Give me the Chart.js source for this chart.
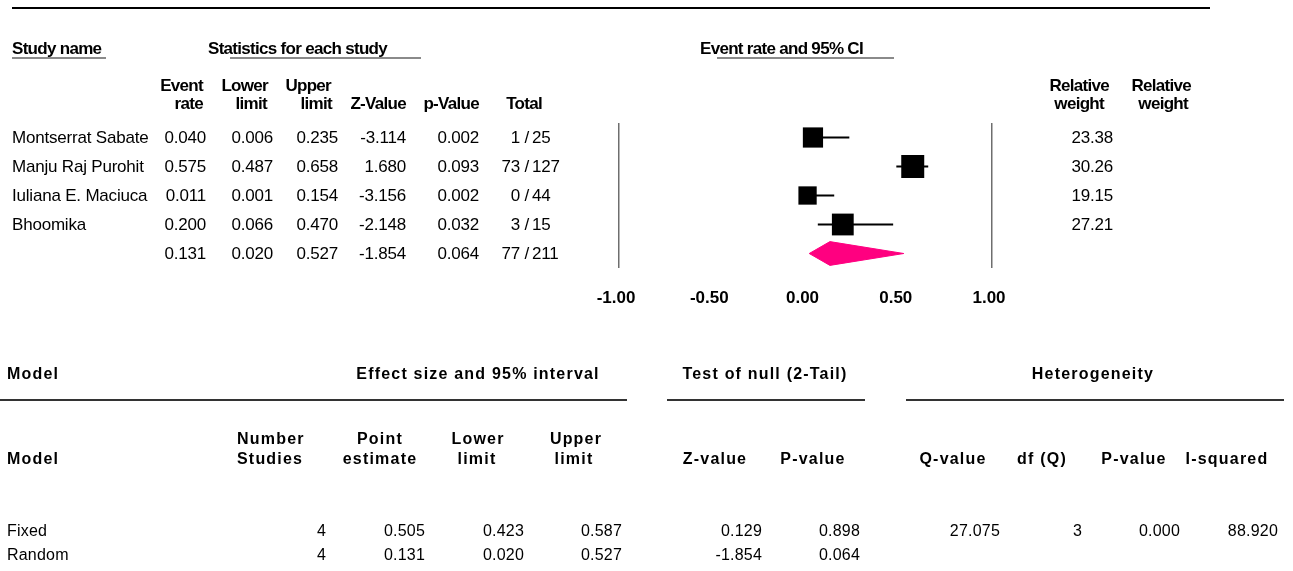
<!DOCTYPE html>
<html>
<head>
<meta charset="utf-8">
<script src="https://cdn.jsdelivr.net/npm/chart.js@4.4.1/dist/chart.umd.min.js"></script>
<style>
html,body{margin:0;padding:0;background:#fff;}
#page{position:relative;width:1293px;height:571px;overflow:hidden;}
#plot{position:absolute;left:0;top:0;}
.t{position:absolute;white-space:nowrap;line-height:20px;height:20px;color:#000;}
.a{font:17px "Liberation Sans",Arial,sans-serif;letter-spacing:-0.2px;}
.ab{font:bold 17px "Liberation Sans",Arial,sans-serif;letter-spacing:-0.7px;}
.m{font:16px "Liberation Sans",Arial,sans-serif;letter-spacing:0.2px;}
.mb{font:bold 16px "Liberation Sans",Arial,sans-serif;letter-spacing:1.2px;}
.rule{position:absolute;}
</style>
</head>
<body>
<div id="page"><canvas id="plot" width="1293" height="571"></canvas></div>
<script>
// per study
const studies = ['Montserrat Sabate', 'Manju Raj Purohit', 'Iuliana E. Maciuca', 'Bhoomika'];
const eventRate = [0.040, 0.575, 0.011, 0.200];
const lowerLimit = [0.006, 0.487, 0.001, 0.066];
const upperLimit = [0.235, 0.658, 0.154, 0.470];
const zValue = [-3.114, 1.680, -3.156, -2.148];
const pValue = [0.002, 0.093, 0.002, 0.032];
const events = [1, 73, 0, 3];
const totals = [25, 127, 44, 15];
const relWeight = [23.38, 30.26, 19.15, 27.21];

// pooled (random) row: rate, lower, upper
const pooled = [0.131, 0.020, 0.527];
const pooledZ = -1.854, pooledP = 0.064;
const pooledEvents = 77, pooledTotal = 211;

const xTicks = [-1, -0.5, 0, 0.5, 1];

// model table
const models = ['Fixed', 'Random'];
const nStudies = [4, 4];
const pointEst = [0.505, 0.131];
const modelLower = [0.423, 0.020];
const modelUpper = [0.587, 0.527];
const modelZ = [0.129, -1.854];
const modelP = [0.898, 0.064];
const heterogeneity = [27.075, 3, 0.000, 88.920]; // Q, df, P, I2

const W = 1293;
const page = document.getElementById('page');

function put(txt, x, y, align, cls){
    const d = document.createElement('div');
    d.className = 't ' + cls;
    d.textContent = txt;
    d.style.top = (y - 10) + 'px';
    if(align === 'r') d.style.right = (W - x) + 'px';
    else if(align === 'c'){ d.style.left = x + 'px'; d.style.transform = 'translateX(-50%)'; }
    else d.style.left = x + 'px';
    page.appendChild(d);
}
function rule(x1, x2, y, color, h){
    const d = document.createElement('div');
    d.className = 'rule';
    d.style.cssText += `left:${x1}px;width:${x2 - x1}px;top:${y}px;height:${h}px;background:${color};`;
    page.appendChild(d);
}
const f3 = v => v.toFixed(3);

// ---- top table
rule(12, 1210, 7, '#000', 2);
put('Study name', 12, 49, 'l', 'ab');
rule(12, 106, 57, '#8a8a8a', 2);
put('Statistics for each study', 208, 49, 'l', 'ab');
rule(230, 421, 57, '#8a8a8a', 2);
put('Event rate and 95% CI', 700, 49, 'l', 'ab');
rule(717, 894, 57, '#8a8a8a', 2);

put('Event', 203, 86, 'r', 'ab'); put('rate', 203, 104, 'r', 'ab');
put('Lower', 268, 86, 'r', 'ab'); put('limit', 267, 104, 'r', 'ab');
put('Upper', 331, 86, 'r', 'ab'); put('limit', 332, 104, 'r', 'ab');
put('Z-Value', 406, 104, 'r', 'ab');
put('p-Value', 479, 104, 'r', 'ab');
put('Total', 542, 104, 'r', 'ab');
put('Relative', 1109, 86, 'r', 'ab'); put('weight', 1104, 104, 'r', 'ab');
put('Relative', 1191, 86, 'r', 'ab'); put('weight', 1188, 104, 'r', 'ab');

const statCols = [206, 273, 338, 406, 479];
function statRow(y, vals, ev, tot){
    vals.forEach((v, j) => put(f3(v), statCols[j], y, 'r', 'a'));
    put(ev + ' /', 529, y, 'r', 'a');
    put(String(tot), 532, y, 'l', 'a');
}
studies.forEach((s, i) => {
    const y = 138 + i * 29;
    put(s, 12, y, 'l', 'a');
    statRow(y, [eventRate[i], lowerLimit[i], upperLimit[i], zValue[i], pValue[i]], events[i], totals[i]);
    put(relWeight[i].toFixed(2), 1113, y, 'r', 'a');
});
statRow(138 + studies.length * 29, [pooled[0], pooled[1], pooled[2], pooledZ, pooledP], pooledEvents, pooledTotal);

// ---- model table
put('Model', 7, 375, 'l', 'mb');
put('Effect size and 95% interval', 478, 375, 'c', 'mb');
put('Test of null (2-Tail)', 765, 375, 'c', 'mb');
put('Heterogeneity', 1093, 375, 'c', 'mb');
rule(0, 627, 399, '#333', 2);
rule(667, 865, 399, '#333', 2);
rule(906, 1284, 399, '#333', 2);

put('Model', 7, 460, 'l', 'mb');
put('Number', 237, 440, 'l', 'mb'); put('Studies', 237, 460, 'l', 'mb');
put('Point', 380, 440, 'c', 'mb'); put('estimate', 380, 460, 'c', 'mb');
put('Lower', 478, 440, 'c', 'mb'); put('limit', 477, 460, 'c', 'mb');
put('Upper', 576, 440, 'c', 'mb'); put('limit', 574, 460, 'c', 'mb');
put('Z-value', 715, 460, 'c', 'mb');
put('P-value', 813, 460, 'c', 'mb');
put('Q-value', 953, 460, 'c', 'mb');
put('df (Q)', 1042, 460, 'c', 'mb');
put('P-value', 1134, 460, 'c', 'mb');
put('I-squared', 1227, 460, 'c', 'mb');

const modelCols = [326, 425, 524, 622, 762, 860];
const hetCols = [1000, 1082, 1180, 1278];
models.forEach((m, i) => {
    const y = 532 + i * 24;
    put(m, 7, y, 'l', 'm');
    put(String(nStudies[i]), modelCols[0], y, 'r', 'm');
    [pointEst[i], modelLower[i], modelUpper[i], modelZ[i], modelP[i]].forEach((v, j) => put(f3(v), modelCols[j + 1], y, 'r', 'm'));
    if(i === 0){
        put(f3(heterogeneity[0]), hetCols[0], y, 'r', 'm');
        put(String(heterogeneity[1]), hetCols[1], y, 'r', 'm');
        put(f3(heterogeneity[2]), hetCols[2], y, 'r', 'm');
        put(f3(heterogeneity[3]), hetCols[3], y, 'r', 'm');
    }
});

// ---- forest plot
const pooledRow = studies.length;
const boxSide = w => 4.18 * Math.sqrt(w);
new Chart(document.getElementById('plot'), {
    type: 'scatter',
    data: { datasets: [
        { label: 'Studies', data: eventRate.map((v, i) => ({ x: v, y: i })), pointStyle: 'rect',
          pointRadius: relWeight.map(w => boxSide(w) / Math.SQRT2), backgroundColor: '#000', borderWidth: 0 },
        { label: 'Pooled', showLine: true, fill: 'shape', backgroundColor: '#ff0080', borderColor: '#ff0080', borderWidth: 1, pointRadius: 0,
          data: [ { x: pooled[1], y: pooledRow }, { x: pooled[0], y: pooledRow - 0.41 }, { x: pooled[2], y: pooledRow },
                  { x: pooled[0], y: pooledRow + 0.41 }, { x: pooled[1], y: pooledRow } ] },
        ...studies.map((s, i) => ({ label: s, showLine: true, borderColor: '#000', borderWidth: 2, pointRadius: 0,
          data: [ { x: lowerLimit[i], y: i }, { x: upperLimit[i], y: i } ] }))
    ]},
    options: {
        responsive: false, animation: false, events: [],
        layout: { padding: { left: 619, right: 301, top: 123, bottom: 258 } },
        plugins: { legend: { display: false }, tooltip: { enabled: false } },
        scales: {
            x: { type: 'linear', min: -1, max: 1,
                 afterBuildTicks: s => { s.ticks = xTicks.map(v => ({ value: v })); },
                 afterFit: s => { s.height = 45; },
                 ticks: { callback: v => v.toFixed(2), color: '#000', padding: 20, maxRotation: 0, autoSkip: false, labelOffset: -3,
                          font: { family: '"Liberation Sans", Arial, sans-serif', size: 17, weight: 'bold' } },
                 grid: { drawTicks: false, lineWidth: 1.5,
                         color: c => (c.tick && Math.abs(c.tick.value) === 1) ? '#6e6e6e' : 'rgba(0,0,0,0)' },
                 border: { display: false } },
            y: { type: 'linear', display: false, min: -0.5, max: 4.5, reverse: true }
        }
    }
});
</script>
</body>
</html>
